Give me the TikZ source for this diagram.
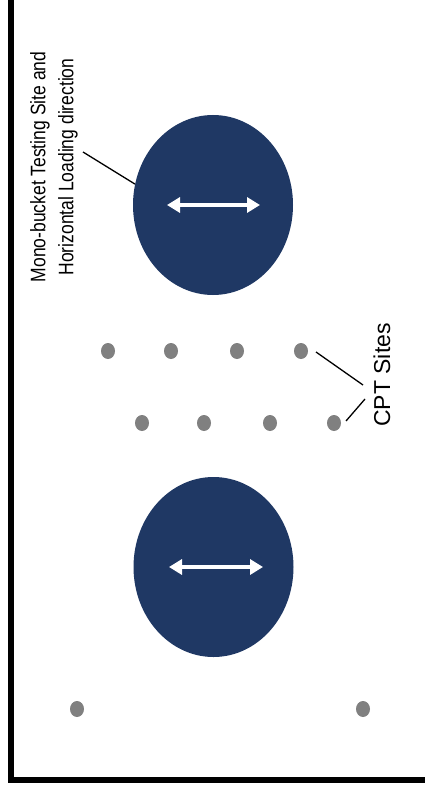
\documentclass[tikz,border=0pt]{standalone}
\usepackage{fontspec}
\setmainfont{Liberation Sans}
\usetikzlibrary{arrows.meta,shapes.geometric}
\definecolor{navy}{RGB}{31,56,100}
\definecolor{dotgray}{RGB}{128,128,128}
\newcommand{\tallline}[1]{\scalebox{1}[1.2]{#1}}
\tikzset{
  site/.style={ellipse, fill=navy, minimum width=160pt, minimum height=180pt, inner sep=0pt},
  cpt/.style={ellipse, fill=dotgray, minimum width=14pt, minimum height=16pt, inner sep=0pt},
  load/.style={white, line width=3.5pt, {Triangle[length=13pt,width=15pt]}-{Triangle[length=13pt,width=15pt]}},
  leader/.style={black, line width=1.3pt},
  frameline/.style={black, line width=6pt, line join=miter}
}
\begin{document}
\begin{tikzpicture}[x=1pt,y=1pt]
\useasboundingbox (0,0) rectangle (425,-794);
\fill[white] (0,0) rectangle (425,-794);
% frame (left and bottom)
\draw[frameline] (10.5,3) -- (10.5,-780) -- (428,-780);
% sites
\node[site] (e1) at (213,-205) {};
\node[site] (e2) at (213.5,-567) {};
\coordinate (a1l) at (167,-205);
\coordinate (a1r) at (260,-205);
\coordinate (a2l) at (169,-567);
\coordinate (a2r) at (263,-567);
\draw[load] (a1l) -- (a1r);
\draw[load] (a2l) -- (a2r);
% CPT dots
\node[cpt] (d1) at (108,-351) {};
\node[cpt] (d2) at (171,-351) {};
\node[cpt] (d3) at (237,-351) {};
\node[cpt] (d4) at (301,-351) {};
\node[cpt] (d5) at (142,-423) {};
\node[cpt] (d6) at (204,-423) {};
\node[cpt] (d7) at (270,-423) {};
\node[cpt] (d8) at (334,-423) {};
\node[cpt] (d9) at (77,-709) {};
\node[cpt] (d10) at (363,-709) {};
% labels
\node[rotate=90, align=center, font=\fontsize{17.5}{28}\selectfont] (lbl1) at (54,-167)
  {\tallline{Mono-bucket Testing Site and}\\\tallline{Horizontal Loading direction}};
\node[rotate=90, anchor=base, font=\fontsize{23}{28}\selectfont] (lbl2) at (390,-375) {CPT Sites};
% leaders
\coordinate (m1) at (83,-152);
\draw[leader] (m1) -- (e1.165);
\coordinate (c1) at (316,-352);
\coordinate (c1e) at (363,-385);
\coordinate (c2) at (346,-421);
\coordinate (c2e) at (365,-399);
\draw[leader] (c1) -- (c1e);
\draw[leader] (c2) -- (c2e);
\end{tikzpicture}
\end{document}
